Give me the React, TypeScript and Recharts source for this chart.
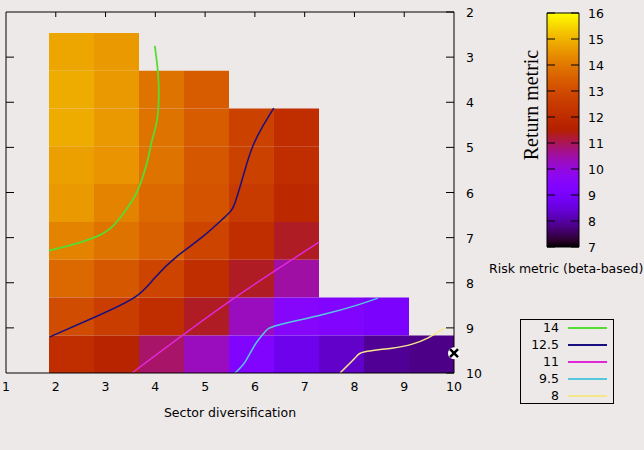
import {
  ComposedChart,
  BarChart,
  Bar,
  XAxis,
  YAxis,
  Line,
  Scatter,
  ReferenceArea,
  Legend,
} from "recharts";

const FONT = "DejaVu Sans";

// heat map bins (data units)
const colEdges = [1.864, 2.768, 3.672, 4.576, 5.48, 6.384, 7.288, 8.192, 9.096, 10];
const rowEdges = [2.465, 3.3, 4.139, 4.976, 5.814, 6.654, 7.492, 8.329, 9.167, 10];

// return metric per cell, rows top -> bottom
const returnGrid: (number | null)[][] = [
  [14.8, 14.6],
  [14.9, 14.6, 13.9, 13.4],
  [14.9, 14.6, 13.9, 13.4, 12.7, 12.1],
  [14.7, 14.5, 13.9, 13.3, 12.7, 12.1],
  [14.6, 14.2, 13.7, 13.2, 12.5, 11.9],
  [14.2, 13.9, 13.5, 12.8, 12.1, 11.3],
  [13.7, 13.3, 12.8, 12.1, 11.3, 10.5],
  [13.0, 12.6, 12.1, 11.3, 10.3, 9.5, 9.3, 9.1],
  [12.1, 11.7, 10.9, 10.3, 9.3, 8.7, 8.3, 7.9, 7.8],
];

// contour lines
const contourLevels = ["14", "12.5", "11", "9.5", "8"];
const contour14 = [
  { x: 3.99, y: 2.75 }, { x: 4.05, y: 3.31 }, { x: 4.07, y: 3.84 }, { x: 4.03, y: 4.42 },
  { x: 3.93, y: 4.86 }, { x: 3.87, y: 5.17 }, { x: 3.79, y: 5.5 }, { x: 3.65, y: 5.94 },
  { x: 3.45, y: 6.32 }, { x: 3.13, y: 6.76 }, { x: 2.79, y: 6.99 }, { x: 2.45, y: 7.12 },
  { x: 1.86, y: 7.29 },
];
const contour125 = [
  { x: 6.38, y: 4.13 }, { x: 6.14, y: 4.57 }, { x: 5.96, y: 4.97 }, { x: 5.8, y: 5.5 },
  { x: 5.6, y: 6.23 }, { x: 5.4, y: 6.54 }, { x: 4.94, y: 6.99 }, { x: 4.44, y: 7.41 },
  { x: 3.99, y: 7.89 }, { x: 3.59, y: 8.32 }, { x: 2.79, y: 8.76 }, { x: 1.88, y: 9.2 },
];
const contour11 = [
  { x: 7.29, y: 7.1 }, { x: 5.44, y: 8.45 }, { x: 3.53, y: 10 },
];
const contour95 = [
  { x: 8.47, y: 8.34 }, { x: 8.07, y: 8.49 }, { x: 7.35, y: 8.71 }, { x: 6.46, y: 8.94 },
  { x: 6.2, y: 9.09 }, { x: 6.0, y: 9.38 }, { x: 5.8, y: 9.76 }, { x: 5.6, y: 10 },
];
const contour8 = [
  { x: 9.82, y: 9.0 }, { x: 9.48, y: 9.22 }, { x: 9.16, y: 9.36 }, { x: 8.75, y: 9.45 },
  { x: 8.21, y: 9.53 }, { x: 8.01, y: 9.67 }, { x: 7.71, y: 10 },
];
const optimum = [{ x: 10, y: 9.56 }];

const xTicks = [1, 2, 3, 4, 5, 6, 7, 8, 9, 10];
const yTicks = [2, 3, 4, 5, 6, 7, 8, 9, 10];
const cbTicks = [7, 8, 9, 10, 11, 12, 13, 14, 15, 16];
const cbRange = [{ name: "Return metric", range: [7, 16] }];

// gnuplot default palette (7,5,15) over 7..16
const palette = (v: number) => {
  const t = Math.min(1, Math.max(0, (v - 7) / 9));
  const r = Math.sqrt(t);
  const g = t * t * t;
  const b = Math.max(0, Math.sin(2 * Math.PI * t));
  return `rgb(${Math.round(r * 255)},${Math.round(g * 255)},${Math.round(b * 255)})`;
};

const cells: { x1: number; x2: number; y1: number; y2: number; v: number }[] = [];
returnGrid.forEach((row, ri) => {
  row.forEach((v, ci) => {
    if (v == null) return;
    cells.push({ x1: colEdges[ci], x2: colEdges[ci + 1], y1: rowEdges[ri], y2: rowEdges[ri + 1], v });
  });
});

const tickStyle = { fill: "#000", fontSize: 12.5, fontFamily: FONT };

// inward tick marks drawn by hand
const RightTick = (props: any) => {
  const { x, y, payload } = props;
  return (
    <g>
      <line x1={x - 8} y1={y} x2={x} y2={y} stroke="#000" />
      <text x={x + 12} y={y} dy="0.4em" textAnchor="start" {...tickStyle}>
        {payload.value}
      </text>
    </g>
  );
};
const LeftTick = (props: any) => {
  const { x, y } = props;
  return <line x1={x} y1={y} x2={x + 8} y2={y} stroke="#000" />;
};
const TopTick = (props: any) => {
  const { x, y } = props;
  return <line x1={x} y1={y} x2={x} y2={y + 5} stroke="#000" />;
};
const BarTick = (props: any) => {
  const { x, y, payload } = props;
  return (
    <g>
      <line x1={x - 8} y1={y} x2={x} y2={y} stroke="#000" />
      <line x1={x - 32} y1={y} x2={x - 24} y2={y} stroke="#000" />
      <text x={x + 9} y={y} dy="0.4em" textAnchor="start" {...tickStyle}>
        {payload.value}
      </text>
    </g>
  );
};

const XMarker = (props: any) => {
  const { cx, cy } = props;
  return (
    <g>
      <circle cx={cx} cy={cy} r={6} fill="#fff" />
      <path
        d={`M${cx - 4},${cy - 4}L${cx + 4},${cy + 4}M${cx - 4},${cy + 4}L${cx + 4},${cy - 4}`}
        stroke="#000"
        strokeWidth={2.5}
      />
    </g>
  );
};

const renderLegend = (props: any) => {
  const items = (props.payload || [])
    .filter((e: any) => contourLevels.includes(String(e.value)))
    .sort((a: any, b: any) => contourLevels.indexOf(String(a.value)) - contourLevels.indexOf(String(b.value)));
  return (
    <div
      style={{
        width: 94,
        height: 85,
        border: "1px solid #000",
        boxSizing: "border-box",
        fontFamily: FONT,
        fontSize: 12.5,
        color: "#000",
      }}
    >
      <div style={{ marginTop: -1 }}>
        {items.map((entry: any) => (
          <div key={entry.value} style={{ display: "flex", alignItems: "center", height: 17 }}>
            <span style={{ width: 38, textAlign: "right" }}>{entry.value}</span>
            <span style={{ marginLeft: 9, width: 39, height: 2, background: entry.color }} />
          </div>
        ))}
      </div>
    </div>
  );
};

const App = () => {
  return (
    <div style={{ position: "fixed", left: 0, top: 0, width: 644, height: 450, background: "#eee9e9" }}>
      <div style={{ position: "absolute", left: 0, top: 0 }}>
        <ComposedChart width={644} height={450} margin={{ top: 11, right: 0, bottom: 47, left: 0 }}>
          <XAxis
            xAxisId="b"
            dataKey="x"
            type="number"
            domain={[1, 10]}
            ticks={xTicks}
            height={30}
            tickLine={false}
            tickSize={0}
            tickMargin={9}
            tick={tickStyle}
            axisLine={{ stroke: "#000" }}
            label={{ value: "Sector diversification", position: "bottom", offset: 5, style: { fill: "#000", fontSize: 12.5, fontFamily: FONT } }}
          />
          <XAxis
            xAxisId="t"
            dataKey="x"
            orientation="top"
            type="number"
            domain={[1, 10]}
            ticks={[2, 3, 4, 5, 6, 7, 8, 9]}
            height={1}
            tick={<TopTick />}
            tickSize={0}
            tickMargin={0}
            tickLine={false}
            axisLine={{ stroke: "#000" }}
          />
          <YAxis
            yAxisId="l"
            dataKey="y"
            orientation="left"
            type="number"
            domain={[2, 10]}
            reversed
            ticks={[3, 4, 5, 6, 7, 8, 9]}
            width={6}
            tick={<LeftTick />}
            tickSize={0}
            tickMargin={0}
            tickLine={false}
            axisLine={{ stroke: "#000" }}
          />
          <YAxis
            yAxisId="r"
            orientation="right"
            dataKey="y"
            type="number"
            domain={[2, 10]}
            reversed
            ticks={yTicks}
            width={190}
            tickSize={0}
            tickMargin={0}
            tick={<RightTick />}
            tickLine={false}
            axisLine={{ stroke: "#000" }}
          />
          {cells.map((c, i) => (
            <ReferenceArea
              key={i}
              xAxisId="b"
              yAxisId="r"
              x1={c.x1}
              x2={c.x2}
              y1={c.y1}
              y2={c.y2}
              fill={palette(c.v)}
              fillOpacity={1}
              stroke="none"
              ifOverflow="visible"
            />
          ))}
          <Line xAxisId="b" yAxisId="r" data={contour14} dataKey="y" name={contourLevels[0]} type="natural" stroke="#55dd33" strokeWidth={1.8} dot={false} activeDot={false} isAnimationActive={false} />
          <Line xAxisId="b" yAxisId="r" data={contour125} dataKey="y" name={contourLevels[1]} type="natural" stroke="#1a0f80" strokeWidth={1.5} dot={false} activeDot={false} isAnimationActive={false} />
          <Line xAxisId="b" yAxisId="r" data={contour11} dataKey="y" name={contourLevels[2]} type="natural" stroke="#e028d8" strokeWidth={1.5} dot={false} activeDot={false} isAnimationActive={false} />
          <Line xAxisId="b" yAxisId="r" data={contour95} dataKey="y" name={contourLevels[3]} type="natural" stroke="#55c8e0" strokeWidth={1.5} dot={false} activeDot={false} isAnimationActive={false} />
          <Line xAxisId="b" yAxisId="r" data={contour8} dataKey="y" name={contourLevels[4]} type="natural" stroke="#f5e68a" strokeWidth={1.5} dot={false} activeDot={false} isAnimationActive={false} />
          <Scatter xAxisId="b" yAxisId="r" data={optimum} dataKey="y" name="optimum" shape={XMarker} legendType="none" isAnimationActive={false} />
          <Scatter xAxisId="t" yAxisId="l" data={optimum} dataKey="y" name="frame" shape={() => <g />} legendType="none" isAnimationActive={false} />
          <Legend
            layout="vertical"
            align="center"
            verticalAlign="middle"
            content={renderLegend}
            wrapperStyle={{ position: "absolute", left: 520, top: 319, width: 94, height: 85 }}
          />
        </ComposedChart>
      </div>

      {/* colour box */}
      <div style={{ position: "absolute", left: 0, top: 0 }}>
        <BarChart
          width={644}
          height={450}
          data={cbRange}
          barCategoryGap={0}
          margin={{ top: 13, right: 0, bottom: 203, left: 547 }}
        >
          <defs>
            <linearGradient id="cbar" x1="0" y1="0" x2="0" y2="1">
              {Array.from({ length: 37 }, (_, i) => (
                <stop key={i} offset={i / 36} stopColor={palette(16 - (9 * i) / 36)} />
              ))}
            </linearGradient>
          </defs>
          <XAxis dataKey="name" hide />
          <YAxis
            orientation="right"
            type="number"
            domain={[7, 16]}
            ticks={cbTicks}
            width={65}
            tickSize={0}
            tickMargin={0}
            tickLine={false}
            tick={<BarTick />}
            axisLine={false}
          />
          <Bar dataKey="range" fill="url(#cbar)" stroke="#000" strokeWidth={1} isAnimationActive={false} />
        </BarChart>
      </div>

      <svg width={644} height={450} style={{ position: "absolute", left: 0, top: 0, pointerEvents: "none" }}>
        <text
          transform="translate(538,105) rotate(-90)"
          textAnchor="middle"
          fontFamily="Liberation Serif"
          fontSize={20}
          fill="#000"
        >
          Return metric
        </text>
        <text x={489} y={273} fontFamily={FONT} fontSize={12.5} fill="#000">
          Risk metric (beta-based)
        </text>
      </svg>
    </div>
  );
};

export default App;
